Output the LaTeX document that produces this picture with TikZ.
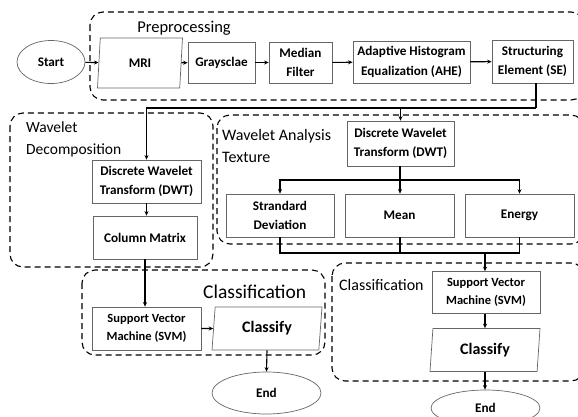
\documentclass[tikz,border=0pt]{standalone}
\usepackage{fontspec}
\setmainfont{Carlito}
\usetikzlibrary{shapes.geometric,arrows.meta}
\begin{document}
\begin{tikzpicture}[x=1pt,y=-1pt,
  box/.style={draw=black!60,line width=0.7pt,fill=white,inner sep=0pt,align=center,
    font=\bfseries\fontsize{13.2}{19.5}\selectfont},
  para/.style={box,trapezium,trapezium stretches body,trapezium left angle=#1,trapezium right angle=180-#1},
  term/.style={draw=black!60,line width=0.7pt,ellipse,inner sep=0pt,font=\bfseries\fontsize{13.2}{15}\selectfont},
  group/.style={draw=black,line width=1.1pt,dash pattern=on 6pt off 4pt,rounded corners=13pt},
  lbl/.style={inner sep=0pt,font=\fontsize{15.5}{22}\selectfont,align=left},
  arr/.style={line width=1.1pt,-{Stealth[length=4.5pt,width=4pt]}},
  ln/.style={line width=1.1pt}]
\useasboundingbox (0,0) rectangle (578,416);

% dashed group frames
\draw[group] (90,12) rectangle (584,100);
\draw[group] (10,113) rectangle (213,267);
\draw[group] (217,115) rectangle (584,244);
\draw[group] (82,270) rectangle (325,355);
\draw[group] (332,263) rectangle (584,381);

% group titles
\node[lbl,font=\fontsize{16.5}{20}\selectfont] (tpre) at (184,28) {Preprocessing};
\node[lbl,anchor=west] (twd) at (26,139) {Wavelet\\Decomposition};
\node[lbl,anchor=west,font=\fontsize{16}{22.5}\selectfont] (twa) at (222,146) {Wavelet Analysis\\Texture};
\node[lbl,anchor=west,font=\fontsize{19.5}{22}\selectfont] (tcl) at (203,292) {Classification};
\node[lbl,anchor=west,font=\fontsize{16}{20}\selectfont] (tcr) at (339,285) {Classification};

% preprocessing chain
\node[term,minimum width=68pt,minimum height=43pt] (start) at (51,62) {Start};
\node[para=72,minimum width=85pt,minimum height=50pt] (mri) at (140,63) {MRI};
\node[box,minimum width=67pt,minimum height=41pt] (gray) at (221.5,62.5) {Graysclae};
\node[box,minimum width=63pt,minimum height=41pt] (med) at (300.5,62.5) {Median\\Filter};
\node[box,minimum width=117pt,minimum height=42pt] (ahe) at (411.5,62) {Adaptive Histogram\\Equalization (AHE)};
\node[box,minimum width=81pt,minimum height=43pt] (se) at (532.5,61.5) {Structuring\\Element (SE)};

% wavelet decomposition branch
\node[box,minimum width=109pt,minimum height=43pt] (dwtl) at (146.5,181.5) {Discrete Wavelet\\Transform (DWT)};
\node[box,minimum width=104pt,minimum height=43pt] (col) at (145,237.5) {Column Matrix};
\node[box,minimum width=109pt,minimum height=43pt,font=\bfseries\fontsize{12.5}{18}\selectfont] (svml) at (146.5,328.5) {Support Vector\\Machine (SVM)};
\node[para=77,minimum width=110pt,minimum height=43pt,font=\bfseries\fontsize{16}{18}\selectfont] (clsl) at (267,328.5) {Classify};
\node[term,minimum width=109pt,minimum height=42pt] (endl) at (266.5,393) {End};

% wavelet analysis branch
\node[box,minimum width=107pt,minimum height=45pt] (dwta) at (400.5,143.5) {Discrete Wavelet\\Transform (DWT)};
\node[box,minimum width=108pt,minimum height=43pt] (sd) at (280,215.5) {Strandard\\Deviation};
\node[box,minimum width=109pt,minimum height=43pt] (mean) at (399.5,215.5) {Mean};
\node[box,minimum width=109pt,minimum height=43pt] (en) at (519.5,215.5) {Energy};
\node[box,minimum width=108pt,minimum height=42pt,font=\bfseries\fontsize{12.5}{18}\selectfont] (svmr) at (486,292.5) {Support Vector\\Machine (SVM)};
\node[para=78,minimum width=110pt,minimum height=43pt,font=\bfseries\fontsize{16}{18}\selectfont] (clsr) at (485,350) {Classify};
\node[term,minimum width=109pt,minimum height=36pt] (endr) at (485.5,408) {End};

% connectors: preprocessing
\draw[arr] (start) -- (mri);
\draw[arr] (mri) -- (gray);
\draw[arr] (gray) -- (med);
\draw[arr] (med) -- (ahe);
\draw[arr] (ahe) -- (se);
\coordinate (split) at (536,108);
\draw[ln] (se.south -| split) -- (split);
\draw[arr] (split) -| (dwtl.north);
\draw[arr] (dwta.north |- split) -- (dwta.north);

% connectors: decomposition
\draw[arr] (dwtl) -- (dwtl |- col.north);
\draw[arr] (col.south) -- (col.south |- svml.north);
\draw[arr] (svml) -- (clsl);
\draw[arr] (clsl.south) -- (endl.north);

% connectors: analysis
\coordinate (fan) at (400,180);
\draw[ln] (dwta.south -| fan) -- (fan);
\draw[arr] (fan) -| (sd.north);
\draw[arr] (fan) -| (en.north);
\draw[arr] (fan) -- (fan |- mean.north);
\coordinate (join) at (485,253);
\draw[ln] (sd.south) |- (join -| en.south) -- (en.south);
\draw[ln] (mean.south -| fan) -- (fan |- join);
\draw[arr] (join) -- (join |- svmr.north);
\draw[arr] (svmr.south -| join) -- (join |- clsr.north);
\draw[arr] (clsr.south -| join) -- (join |- endr.north);
\end{tikzpicture}
\end{document}
